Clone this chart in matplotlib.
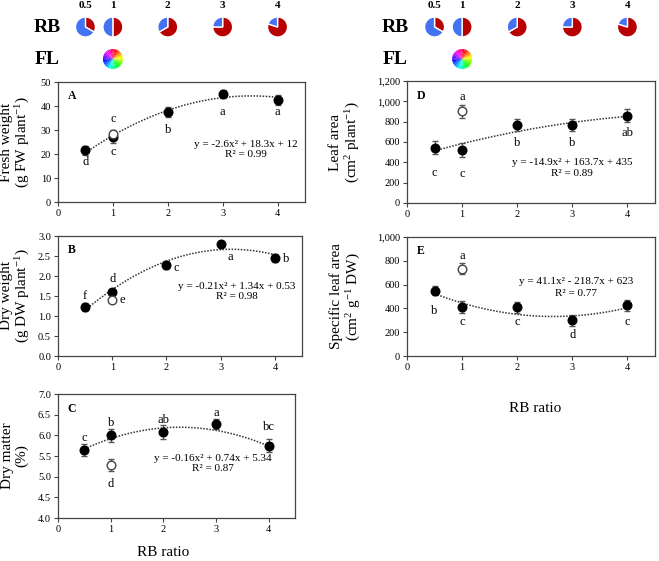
import numpy as np
import matplotlib
matplotlib.use('Agg')
import matplotlib.pyplot as plt
import matplotlib.colors as mcolors
from matplotlib.ticker import FuncFormatter

plt.rcParams['font.family'] = 'Liberation Serif'
plt.rcParams['mathtext.fontset'] = 'custom'
plt.rcParams['mathtext.rm'] = 'Liberation Serif'
plt.rcParams['mathtext.it'] = 'Liberation Serif:italic'

# RB ratios
rb = [0.5, 1, 2, 3, 4]
rb_labels = ['0.5', '1', '2', '3', '4']

# closed symbols = RB lamps, open symbol = fluorescent (at RB 1)
fw = [21.5, 27.0, 37.5, 45.0, 42.5]
fw_err = [2.0, 2.5, 2.0, 1.5, 2.0]
fw_fl, fw_fl_err = 28.5, 1.5

dw = [1.22, 1.60, 2.28, 2.80, 2.44]
dw_err = [0.10, 0.08, 0.10, 0.08, 0.10]
dw_fl, dw_fl_err = 1.40, 0.08

dm = [5.65, 6.00, 6.08, 6.27, 5.75]
dm_err = [0.15, 0.15, 0.17, 0.12, 0.15]
dm_fl, dm_fl_err = 5.28, 0.15

la = [545, 525, 765, 765, 860]
la_err = [60, 70, 60, 60, 65]
la_fl, la_fl_err = 900, 65

sla = [550, 410, 410, 300, 425]
sla_err = [40, 50, 45, 45, 45]
sla_fl, sla_fl_err = 735, 45

# quadratic fits as printed on the chart (a, b, c)
fit_fw = [-2.6, 18.3, 12]
fit_dw = [-0.21, 1.34, 0.53]
fit_dm = [-0.16, 0.74, 5.34]
fit_la = [-14.9, 163.7, 435]
fit_sla = [41.1, -218.7, 623]

W, H = 659, 561
fig = plt.figure(figsize=(W / 100, H / 100), dpi=100)


def box(l, t, r, b):
    return [l / W, 1 - b / H, (r - l) / W, (b - t) / H]


def panel(rect, y, err, yfl, yfl_err, fit, ylim, yticks, ylabel, tag,
          letters, eq, r2, eqpos, lblx, comma=False):
    ax = fig.add_axes(rect)
    ax.errorbar(rb, y, yerr=err, fmt='o', color='black', ms=6.2,
                ecolor='#555555', elinewidth=0.9, capsize=2, zorder=3)
    ax.errorbar([1], [yfl], yerr=[yfl_err], fmt='o', mfc='white',
                mec='#444444', ms=6.2, ecolor='#555555', elinewidth=0.9,
                capsize=2, zorder=3)
    xs = np.linspace(0.5, 4, 100)
    ax.plot(xs, np.polyval(fit, xs), color='#333333', lw=1.1,
            ls=(0, (1, 1)), zorder=2)
    ax.set_xlim(0, 4.5)
    ax.set_ylim(*ylim)
    ax.set_xticks([0, 1, 2, 3, 4])
    ax.set_yticks(yticks)
    if comma:
        ax.yaxis.set_major_formatter(FuncFormatter(lambda v, p: f'{v:,.0f}'))
    ax.tick_params(direction='out', length=3, width=0.8, labelsize=7.5,
                   color='#444444', pad=2)
    for s in ax.spines.values():
        s.set_color('#444444')
        s.set_linewidth(0.9)
    ax.set_ylabel(ylabel, fontsize=11, linespacing=1.1)
    ax.yaxis.set_label_coords(lblx, 0.5)
    ax.text(0.04, 0.93, tag, transform=ax.transAxes, fontsize=8.5,
            fontweight='bold', va='top')
    for (lx, ly, s) in letters:
        ax.text(lx, ly, s, fontsize=9, ha='center', va='center')
    ax.text(eqpos[0], eqpos[1], eq, fontsize=8, ha='center', va='center')
    ax.text(eqpos[0], eqpos[2], r2, fontsize=8, ha='center', va='center')
    return ax


axA = panel(box(58, 82, 305, 202), fw, fw_err, fw_fl, fw_fl_err, fit_fw,
            (0, 50), [0, 10, 20, 30, 40, 50],
            'Fresh weight\n(g FW plant$^{-1}$)', 'A',
            [(0.5, 16.5, 'd'), (1, 21, 'c'), (1, 34.5, 'c'), (2, 30, 'b'),
             (3, 37.5, 'a'), (4, 37.5, 'a')],
            'y = -2.6x² + 18.3x + 12', 'R² = 0.99', (3.42, 24, 19.6), -0.105)

axB = panel(box(58, 236, 302, 356), dw, dw_err, dw_fl, dw_fl_err, fit_dw,
            (0, 3.0), [0, 0.5, 1.0, 1.5, 2.0, 2.5, 3.0],
            'Dry weight\n(g DW plant$^{-1}$)', 'B',
            [(0.5, 1.5, 'f'), (1, 1.93, 'd'), (1.18, 1.4, 'e'),
             (2.18, 2.2, 'c'), (3.18, 2.47, 'a'), (4.2, 2.42, 'b')],
            'y = -0.21x² + 1.34x + 0.53', 'R² = 0.98', (3.3, 1.73, 1.48),
            -0.105)
axB.yaxis.set_major_formatter(FuncFormatter(lambda v, p: f'{v:.1f}'))

axC = panel(box(58, 394, 295, 518), dm, dm_err, dm_fl, dm_fl_err, fit_dm,
            (4.0, 7.0), [4.0, 4.5, 5.0, 5.5, 6.0, 6.5, 7.0],
            'Dry matter\n(%)', 'C',
            [(0.5, 5.94, 'c'), (1, 6.3, 'b'), (2, 6.36, 'ab'),
             (3, 6.55, 'a'), (4, 6.2, 'bc'), (1, 4.82, 'd')],
            'y = -0.16x² + 0.74x + 5.34', 'R² = 0.87', (2.94, 5.43, 5.19),
            -0.125)
axC.yaxis.set_major_formatter(FuncFormatter(lambda v, p: f'{v:.1f}'))

axD = panel(box(407, 81, 655, 203), la, la_err, la_fl, la_fl_err, fit_la,
            (0, 1200), [0, 200, 400, 600, 800, 1000, 1200],
            'Leaf area\n(cm$^2$ plant$^{-1}$)', 'D',
            [(0.5, 295, 'c'), (1, 285, 'c'), (1, 1042, 'a'), (2, 590, 'b'),
             (3, 590, 'b'), (4, 688, 'ab')],
            'y = -14.9x² + 163.7x + 435', 'R² = 0.89', (2.99, 403, 295),
            -0.182, comma=True)

axE = panel(box(407, 237, 655, 356), sla, sla_err, sla_fl, sla_fl_err, fit_sla,
            (0, 1000), [0, 200, 400, 600, 800, 1000],
            'Specific leaf area\n(cm$^2$ g$^{-1}$ DW)', 'E',
            [(0.5, 380, 'b'), (1, 286, 'c'), (1, 840, 'a'), (2, 286, 'c'),
             (3, 176, 'd'), (4, 286, 'c')],
            'y = 41.1x² - 218.7x + 623', 'R² = 0.77', (3.06, 622, 529),
            -0.178, comma=True)

fig.text(163 / W, 1 - 553 / H, 'RB ratio', fontsize=11, ha='center',
         va='center')
fig.text(535 / W, 1 - 409 / H, 'RB ratio', fontsize=11, ha='center',
         va='center')

# light-spectrum pies above each column
blue = '#4473F2'
red = '#B80000'
rad = 12.5
for ax_ref, lab_x in [(axA, 47), (axD, 395)]:
    pos = ax_ref.get_position()
    x0 = pos.x0 * W
    xw = pos.width * W
    fig.text(lab_x / W, 1 - 27 / H, 'RB', fontsize=14, fontweight='bold',
             ha='center', va='center')
    fig.text(lab_x / W, 1 - 60 / H, 'FL', fontsize=14, fontweight='bold',
             ha='center', va='center')
    for r, s in zip(rb, rb_labels):
        cx = x0 + r / 4.5 * xw
        pax = fig.add_axes(box(cx - rad, 27 - rad, cx + rad, 27 + rad))
        red_frac = r / (r + 1)
        pax.pie([red_frac, 1 - red_frac], colors=[red, blue], startangle=90,
                counterclock=False,
                wedgeprops=dict(edgecolor='white', linewidth=1.0))
        pax.set_aspect('equal')
        fig.text(cx / W, 1 - 6 / H, s, fontsize=8, fontweight='bold',
                 ha='center', va='center')
        if r == 1:
            wax = fig.add_axes(box(cx - rad, 59 - rad, cx + rad, 59 + rad))
            n = 36
            hues = [mcolors.hsv_to_rgb((i / n, 1, 1)) for i in range(n)]
            wax.pie([1] * n, colors=hues, startangle=75, counterclock=False)
            wax.set_aspect('equal')

fig.savefig('out.png', dpi=100)
